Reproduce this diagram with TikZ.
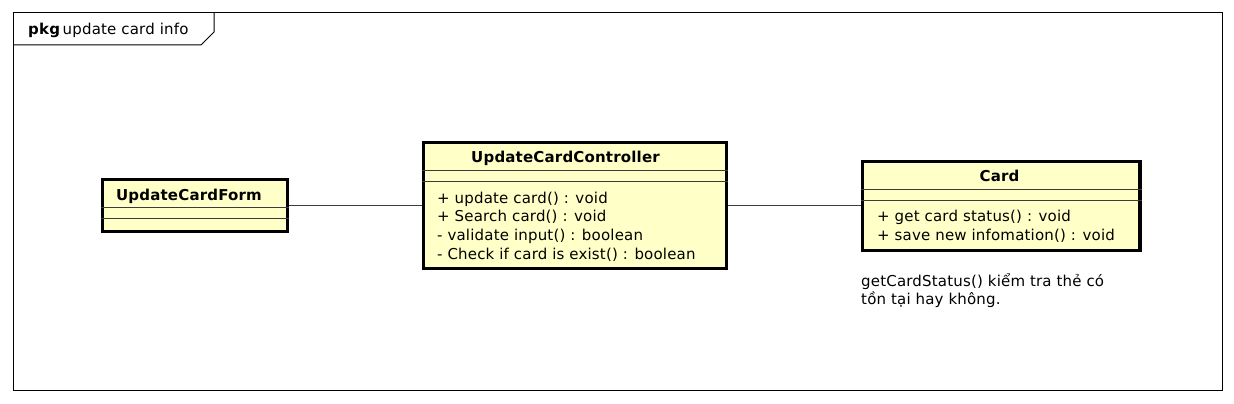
\documentclass[tikz,border=0pt]{standalone}
\usepackage{fontspec}
\setmainfont{DejaVu Sans}[LetterSpace=1.2]
\definecolor{umlfill}{RGB}{255,255,200}
\definecolor{linegray}{RGB}{60,60,60}
\begin{document}
\begin{tikzpicture}[x=1pt,y=-1pt,
  umlbox/.style={draw=black,fill=umlfill,line width=3.3pt,inner sep=0pt},
  divider/.style={draw=linegray,line width=1pt},
  conn/.style={draw=linegray,line width=1pt},
  txt/.style={inner sep=0pt,anchor=base west,font=\fontsize{15}{18}\selectfont},
  nametxt/.style={inner sep=0pt,anchor=base,font=\fontsize{15}{18}\selectfont\bfseries},
  framestyle/.style={draw=black,line width=1pt}]
\useasboundingbox (0,0) rectangle (1234,404);
\fill[white] (0,0) rectangle (1234,404);
% package frame
\draw[framestyle] (13,13) rectangle (1222,390);
\draw[framestyle] (13,45) -- (201,45) -- (214,32) -- (214,13);
\node[txt] (pkglabel) at (28,35) {\textbf{pkg}\,update card info};
% boxes
\node[umlbox,minimum width=185pt,minimum height=52.4pt] (form) at (195.2,205.5) {};
\node[umlbox,minimum width=303.4pt,minimum height=125.6pt] (ctrl) at (575,205.5) {};
\node[umlbox,minimum width=277.7pt,minimum height=89pt] (card) at (1001.2,206.2) {};
% connectors
\draw[conn] (form.east) -- (ctrl.west);
\draw[conn] (ctrl.east) -- (card.west |- ctrl.east);
% dividers
\draw[divider] (form.west |- 0,207.7) -- (form.east |- 0,207.7);
\draw[divider] (form.west |- 0,218) -- (form.east |- 0,218);
\draw[divider] (ctrl.west |- 0,170.7) -- (ctrl.east |- 0,170.7);
\draw[divider] (ctrl.west |- 0,181) -- (ctrl.east |- 0,181);
\draw[divider] (card.west |- 0,189.3) -- (card.east |- 0,189.3);
\draw[divider] (card.west |- 0,200) -- (card.east |- 0,200);
% names
\node[nametxt] (formname) at (189,200.5) {UpdateCardForm};
\node[nametxt] (ctrlname) at (565.5,162) {UpdateCardController};
\node[nametxt] (cardname) at (999.5,181.7) {Card};
% controller operations
\node[txt] (op1) at (437,203) {+ update card() : void};
\node[txt] (op2) at (437,221.7) {+ Search card() : void};
\node[txt] (op3) at (437,240.4) {- validate input() : boolean};
\node[txt] (op4) at (437,259) {- Check if card is exist() : boolean};
% card operations
\node[txt] (cop1) at (877,221.5) {+ get card status() : void};
\node[txt] (cop2) at (877,240) {+ save new infomation() : void};
% note text
\node[txt] (note1) at (861,286.7) {getCardStatus() kiểm tra thẻ có};
\node[txt] (note2) at (861,304.5) {tồn tại hay không.};
\end{tikzpicture}
\end{document}
